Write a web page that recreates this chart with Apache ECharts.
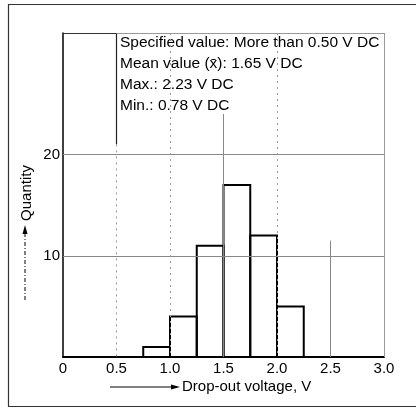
<!DOCTYPE html>
<html><head><meta charset="utf-8">
<script src="https://cdn.jsdelivr.net/npm/echarts@6/dist/echarts.min.js"></script>
<style>html,body{margin:0;padding:0;background:#fff}#c{width:416px;height:408px}</style>
</head><body><div id="c"></div>
<script>
const binStart = [0.75, 1.0, 1.25, 1.5, 1.75, 2.0];
const binEnd   = [1.0, 1.25, 1.5, 1.75, 2.0, 2.25];
const counts   = [1, 4, 11, 17, 12, 5];
const xTicks = ['0', '0.5', '1.0', '1.5', '2.0', '2.5', '3.0'];
const yTicks = [10, 20];
const notes = [
  'Specified value: More than 0.50 V DC',
  'Mean value (x\u0304): 1.65 V DC',
  'Max.: 2.23 V DC',
  'Min.: 0.78 V DC'
];
const FONT = '"Liberation Sans", Arial, sans-serif';
const chart = echarts.init(document.getElementById('c'));
const data = binStart.map((s, i) => [s, binEnd[i], counts[i]]);
const solid = {color: '#888', width: 1, type: 'solid'};
const dotted = {color: '#999', width: 1, type: [2, 4]};
function seg(x1, y1, x2, y2, ls) {
  return [{coord: [x1, y1], lineStyle: ls}, {coord: [x2, y2]}];
}
chart.setOption({
  animation: false,
  grid: {left: 63, right: 32, top: 33, bottom: 51},
  xAxis: {
    type: 'value', min: 0, max: 3, interval: 0.5,
    axisLine: {lineStyle: {color: '#000', width: 2}},
    axisTick: {show: false}, splitLine: {show: false},
    axisLabel: {color: '#000', fontFamily: FONT, fontSize: 15, margin: 4,
      formatter: v => xTicks[Math.round(v * 2)]}
  },
  yAxis: {
    type: 'value', min: 0, max: 32, interval: 10,
    axisLine: {show: true, lineStyle: {color: '#000', width: 1.5}},
    axisTick: {show: false}, splitLine: {show: false},
    axisLabel: {color: '#000', fontFamily: FONT, fontSize: 15, margin: 3,
      formatter: v => yTicks.indexOf(v) >= 0 ? String(v) : ''}
  },
  series: [{
    type: 'custom',
    data: data,
    encode: {x: [0, 1], y: 2},
    renderItem: function (params, api) {
      const p1 = api.coord([api.value(0), api.value(2)]);
      const p2 = api.coord([api.value(1), 0]);
      return {type: 'rect', shape: {x: p1[0], y: p1[1], width: p2[0] - p1[0], height: p2[1] - p1[1]},
        style: {fill: 'none', stroke: '#000', lineWidth: 2}};
    },
    markLine: {
      silent: true, symbol: 'none', label: {show: false},
      data: [
        seg(0, 20, 3, 20, solid),
        seg(0, 10, 3, 10, solid),
        seg(0.5, 32, 0.5, 21, {color: '#222', width: 1.2, type: 'solid'}),
        seg(0.5, 21, 0.5, 0, dotted),
        seg(1.0, 32, 1.0, 0, dotted),
        seg(1.5, 24, 1.5, 0, solid),
        seg(2.0, 32, 2.0, 0, dotted),
        seg(2.5, 11.5, 2.5, 0, solid),
        seg(3.0, 32, 3.0, 0, {color: '#999', width: 1, type: 'solid'}),
        seg(0, 32, 0.5, 32, {color: '#333', width: 1.2, type: 'solid'}),
        seg(0.5, 32, 3.0, 32, {color: '#999', width: 1, type: 'solid'})
      ]
    }
  }],
  graphic: [
    {type: 'rect', shape: {x: 8.5, y: 4.5, width: 420, height: 402}, style: {fill: 'none', stroke: '#333', lineWidth: 1.2}, silent: true},
  ].concat(notes.map((t, i) => ({
    type: 'text', left: 120, top: 35 + i * 21,
    style: {text: t, font: '15.5px ' + FONT, fill: '#000'}
  }))).concat([
    {type: 'text', x: 27, y: 193, rotation: Math.PI / 2,
      style: {text: 'Quantity', font: '15px ' + FONT, fill: '#000', align: 'center', verticalAlign: 'middle'}},
    {type: 'line', shape: {x1: 25, y1: 300, x2: 25, y2: 232}, style: {stroke: '#000', lineWidth: 1, lineDash: [4, 2, 1, 2]}},
    {type: 'polygon', shape: {points: [[25, 225], [22.5, 234], [27.5, 234]]}, style: {fill: '#000'}},
    {type: 'text', left: 182, top: 379,
      style: {text: 'Drop-out voltage, V', font: '15px ' + FONT, fill: '#000'}},
    {type: 'line', shape: {x1: 110, y1: 387, x2: 173, y2: 387}, style: {stroke: '#000', lineWidth: 1}},
    {type: 'polygon', shape: {points: [[180, 387], [171, 384.5], [171, 389.5]]}, style: {fill: '#000'}}
  ])
});
</script></body></html>
